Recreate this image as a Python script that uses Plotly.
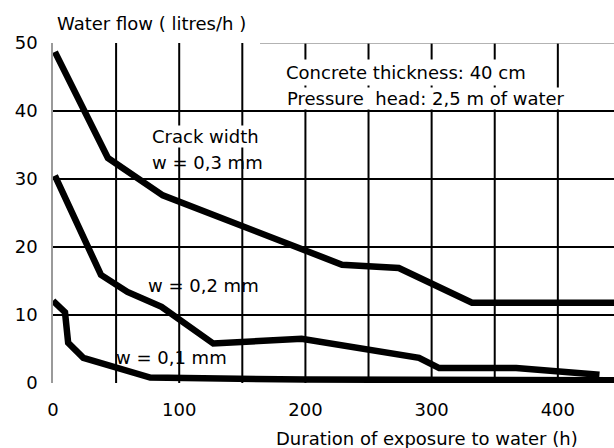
import plotly.graph_objects as go

# Water flow through a cracked concrete wall versus time of exposure
t_w03 = [1.5, 43.5, 87, 200, 229, 274, 332, 445]
q_w03 = [48.7, 33.1, 27.6, 19.6, 17.4, 16.9, 11.8, 11.8]

t_w02 = [1.5, 38, 59, 86, 127, 197, 290, 306, 367, 433]
q_w02 = [30.5, 15.9, 13.4, 11.2, 5.8, 6.5, 3.7, 2.2, 2.2, 1.2]

t_w01 = [0, 9.5, 12, 24, 77, 200, 445]
q_w01 = [12.1, 10.4, 5.9, 3.7, 0.8, 0.5, 0.4]

x_tick_vals = [0, 100, 200, 300, 400]
y_tick_vals = [0, 10, 20, 30, 40, 50]
x_grid = [50, 100, 150, 200, 250, 300, 350, 400]
y_grid = [10, 20, 30, 40]

X_MAX = 444.5
Y_MAX = 50
FONT = "DejaVu Sans"

fig = go.Figure()

for t, q in [(t_w03, q_w03), (t_w02, q_w02), (t_w01, q_w01)]:
    fig.add_trace(go.Scatter(
        x=t, y=q, mode="lines",
        line=dict(color="black", width=6.5),
        showlegend=False, hoverinfo="skip",
    ))

shapes = []
for gx in x_grid:
    shapes.append(dict(type="line", xref="x", yref="y", x0=gx, x1=gx, y0=0, y1=Y_MAX,
                       line=dict(color="black", width=2), layer="below"))
for gy in y_grid:
    shapes.append(dict(type="line", xref="x", yref="y", x0=0, x1=X_MAX, y0=gy, y1=gy,
                       line=dict(color="black", width=2), layer="below"))
# faint top border over the right part of the frame
shapes.append(dict(type="line", xref="x", yref="y", x0=164, x1=X_MAX, y0=Y_MAX, y1=Y_MAX,
                   line=dict(color="#9a9a9a", width=1.5), layer="below"))

annotations = [
    dict(text="Concrete thickness: 40 cm", x=182.0, y=45.6, xref="x", yref="y",
         xanchor="left", yanchor="middle", showarrow=False, bgcolor="white", borderpad=2,
         font=dict(family=FONT, size=18, color="black")),
    dict(text="Pressure\u00a0 head: 2,5 m of water", x=184.4, y=41.8, xref="x", yref="y",
         xanchor="left", yanchor="middle", showarrow=False, bgcolor="white", borderpad=0,
         font=dict(family=FONT, size=18, color="black")),
    dict(text="Crack width", x=121.1, y=36.2, xref="x", yref="y",
         xanchor="center", yanchor="middle", showarrow=False, bgcolor="white", borderpad=0,
         font=dict(family=FONT, size=18, color="black")),
    dict(text="w = 0,3 mm", x=122.3, y=32.5, xref="x", yref="y",
         xanchor="center", yanchor="middle", showarrow=False,
         font=dict(family=FONT, size=18, color="black")),
    dict(text="w = 0,2 mm", x=119.1, y=14.4, xref="x", yref="y",
         xanchor="center", yanchor="middle", showarrow=False,
         font=dict(family=FONT, size=18, color="black")),
    dict(text="w = 0,1 mm", x=93.8, y=3.7, xref="x", yref="y",
         xanchor="center", yanchor="middle", showarrow=False,
         font=dict(family=FONT, size=18, color="black")),
    dict(text="Water flow ( litres/h )", x=1.5, y=1.058, xref="x", yref="paper",
         xanchor="left", yanchor="middle", showarrow=False,
         font=dict(family=FONT, size=18, color="black")),
    dict(text="Duration of exposure to water (h)", x=296.4, y=-0.162, xref="x", yref="paper",
         xanchor="center", yanchor="middle", showarrow=False,
         font=dict(family=FONT, size=18, color="black")),
]

fig.update_layout(
    width=614, height=448,
    margin=dict(l=53, r=0, t=43, b=65),
    paper_bgcolor="white", plot_bgcolor="white",
    shapes=shapes, annotations=annotations,
    xaxis=dict(range=[0, X_MAX], tickvals=x_tick_vals, showgrid=False, zeroline=False,
               showline=False, ticks="", ticklabelstandoff=14,
               tickfont=dict(family=FONT, size=18, color="black")),
    yaxis=dict(range=[0, Y_MAX], tickvals=y_tick_vals, showgrid=False, zeroline=False,
               showline=True, linecolor="#9a9a9a", linewidth=1.5, ticks="",
               ticklabelstandoff=10,
               tickfont=dict(family=FONT, size=18, color="black")),
)

fig.write_html("out.html")
